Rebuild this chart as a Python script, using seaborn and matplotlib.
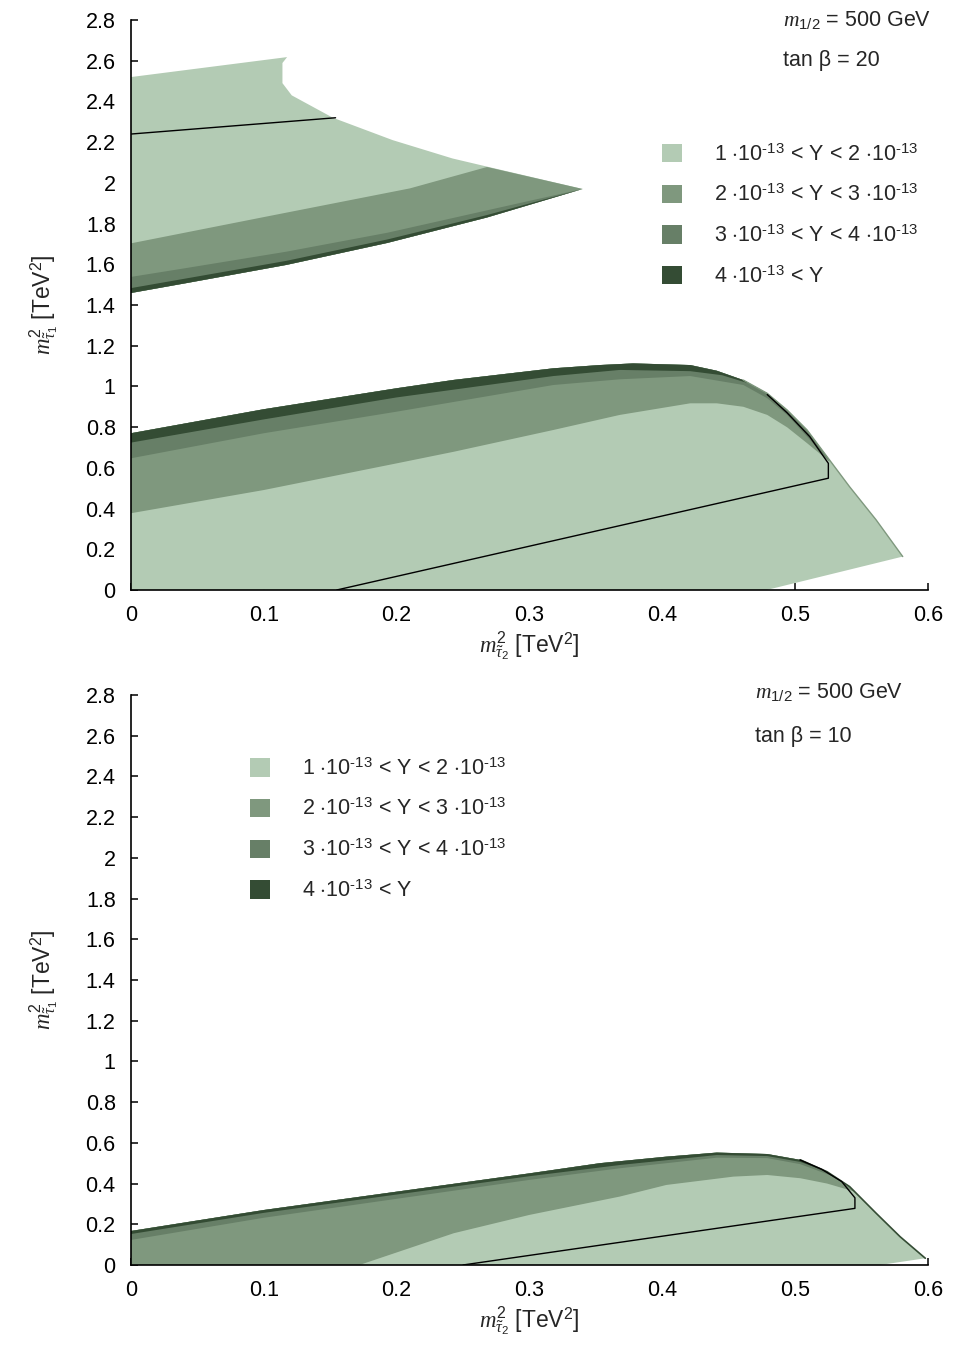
import numpy as np
import matplotlib
matplotlib.use("Agg")
import matplotlib.pyplot as plt
from matplotlib.patches import Patch
from matplotlib.ticker import FuncFormatter
import seaborn as sns
import pandas as pd

sns.set_style("ticks")
plt.rcParams['font.family'] = ['Liberation Sans', 'DejaVu Sans']
plt.rcParams['mathtext.fontset'] = 'custom'
plt.rcParams['mathtext.rm'] = 'Liberation Sans'
plt.rcParams['mathtext.it'] = 'Liberation Serif:italic'
plt.rcParams['mathtext.bf'] = 'Liberation Sans:bold'

FS = 15.5

# ---------------- data ----------------
labels = [r'1 $\cdot$10$^{\text{-13}}$ < Y < 2 $\cdot$10$^{\text{-13}}$',
          r'2 $\cdot$10$^{\text{-13}}$ < Y < 3 $\cdot$10$^{\text{-13}}$',
          r'3 $\cdot$10$^{\text{-13}}$ < Y < 4 $\cdot$10$^{\text{-13}}$',
          r'4 $\cdot$10$^{\text{-13}}$ < Y']
colors = ['#b3cbb4', '#7f987e', '#677f67', '#344c34']

xticks = [0, 0.1, 0.2, 0.3, 0.4, 0.5, 0.6]
yticks = [0, 0.2, 0.4, 0.6, 0.8, 1, 1.2, 1.4, 1.6, 1.8, 2, 2.2, 2.4, 2.6, 2.8]

# --- top panel (tan beta = 20), upper island ---
t20_up_top_x = [0, 0.1175, 0.114, 0.114, 0.121, 0.152, 0.197, 0.242, 0.268, 0.340]
t20_up_top_y = [2.52, 2.618, 2.589, 2.49, 2.43, 2.32, 2.21, 2.12, 2.08, 1.97]
t20_up_bot_x = [0, 0.042, 0.117, 0.193, 0.268, 0.340]
t20_up_bot_y = [1.459, 1.508, 1.597, 1.705, 1.83, 1.97]
t20_up_b23_x = [0, 0.1, 0.21, 0.268]
t20_up_b23_y = [1.703, 1.832, 1.973, 2.078]
t20_up_b34_x = [0, 0.042, 0.117, 0.193, 0.268, 0.340]
t20_up_b34_y = [1.538, 1.582, 1.662, 1.755, 1.865, 1.97]
t20_up_b4_x = [0, 0.042, 0.117, 0.193, 0.268, 0.340]
t20_up_b4_y = [1.483, 1.531, 1.617, 1.722, 1.842, 1.97]
t20_up_line_x = [0, 0.154]
t20_up_line_y = [2.24, 2.32]

# --- top panel (tan beta = 20), lower island ---
t20_lo_top_x = [0, 0.1, 0.2, 0.243, 0.318, 0.353, 0.378, 0.421, 0.441, 0.461,
                0.479, 0.494, 0.509, 0.524, 0.541, 0.561, 0.581]
t20_lo_top_y = [0.77, 0.888, 0.991, 1.032, 1.089, 1.105, 1.113, 1.105, 1.077, 1.031,
                0.966, 0.884, 0.786, 0.655, 0.507, 0.344, 0.164]
t20_lo_bot_x = [0.4786, 0]
t20_lo_bot_y = [0, 0]
t20_lo_b23_x = [0, 0.1, 0.2, 0.243, 0.318, 0.368, 0.421, 0.441, 0.461, 0.479, 0.494, 0.509, 0.526]
t20_lo_b23_y = [0.377, 0.491, 0.622, 0.679, 0.786, 0.860, 0.917, 0.917, 0.900, 0.860, 0.799, 0.721, 0.63]
t20_lo_b34_x = [0, 0.1, 0.2, 0.318, 0.368, 0.421, 0.461, 0.479, 0.494, 0.509, 0.526]
t20_lo_b34_y = [0.647, 0.770, 0.876, 1.007, 1.035, 1.051, 1.007, 0.942, 0.860, 0.753, 0.63]
t20_lo_b4_x = [0, 0.1, 0.2, 0.318, 0.368, 0.421, 0.445, 0.465, 0.479]
t20_lo_b4_y = [0.724, 0.838, 0.946, 1.051, 1.081, 1.075, 1.055, 1.015, 0.966]
t20_lo_line_x = [0.155, 0.525, 0.525, 0.511, 0.494, 0.479]
t20_lo_line_y = [0.0, 0.549, 0.622, 0.753, 0.870, 0.960]

# --- bottom panel (tan beta = 10) ---
t10_top_x = [0, 0.1, 0.2, 0.3, 0.353, 0.403, 0.441, 0.479, 0.504, 0.524, 0.541, 0.561, 0.579, 0.598]
t10_top_y = [0.167, 0.270, 0.360, 0.450, 0.500, 0.532, 0.552, 0.545, 0.516, 0.458, 0.385, 0.254, 0.139, 0.033]
t10_bot_x = [0.564, 0]
t10_bot_y = [0, 0]
t10_b23_x = [0.172, 0.243, 0.3, 0.368, 0.403, 0.4535, 0.479, 0.504, 0.524, 0.545]
t10_b23_y = [0, 0.156, 0.246, 0.336, 0.393, 0.434, 0.442, 0.426, 0.400, 0.36]
t10_b34_x = [0, 0.1, 0.2, 0.3, 0.368, 0.441, 0.479, 0.504, 0.53]
t10_b34_y = [0.123, 0.232, 0.325, 0.418, 0.475, 0.527, 0.525, 0.495, 0.432]
t10_b4_x = [0, 0.1, 0.2, 0.3, 0.368, 0.441, 0.479, 0.504, 0.524]
t10_b4_y = [0.152, 0.256, 0.346, 0.436, 0.491, 0.540, 0.535, 0.506, 0.458]
t10_line_x = [0.25, 0.545, 0.545, 0.535, 0.52, 0.5036]
t10_line_y = [0.0, 0.278, 0.33, 0.41, 0.47, 0.516]


# ---------------- helpers ----------------
def band_below(ox, oy, ix, iy, close=None):
    """Polygon between outer top curve and an inner curve below it."""
    xe = ix[-1]
    px = [x for x in ox if x < xe]
    py = [y for x, y in zip(ox, oy) if x < xe]
    px += list(ix[::-1])
    py += list(iy[::-1])
    if close is not None:
        px.append(close[0]); py.append(close[1])
    return px, py


def style_axes(ax):
    ax.set_xlim(0, 0.6)
    ax.set_ylim(0, 2.8)
    ax.set_xticks(xticks)
    ax.set_yticks(yticks)
    fmt = FuncFormatter(lambda v, p: '%g' % round(v, 3))
    ax.xaxis.set_major_formatter(fmt)
    ax.yaxis.set_major_formatter(fmt)
    sns.despine(ax=ax)
    for s in ['left', 'bottom']:
        ax.spines[s].set_linewidth(1.2)
        ax.spines[s].set_color('black')
        ax.spines[s].set_zorder(10)
    ax.tick_params(direction='in', length=5, width=1.1, labelsize=FS, colors='black')
    ax.tick_params(axis='y', pad=11)
    ax.tick_params(axis='x', pad=11)
    ax.set_xlabel(r'$m^2_{\tilde{\tau}_2}$ [TeV$^2$]', fontsize=FS + 1, labelpad=3)
    ax.set_ylabel(r'$m^2_{\tilde{\tau}_1}$ [TeV$^2$]', fontsize=FS + 1, labelpad=18)
    ax.set_facecolor('white')


def black_line(ax, xs, ys):
    df = pd.DataFrame({'x': xs, 'y': ys})
    sns.lineplot(data=df, x='x', y='y', sort=False, estimator=None, color='black',
                 linewidth=1.0, ax=ax, legend=False, zorder=5)
    ax.set_xlabel(''); ax.set_ylabel('')


fig = plt.figure(figsize=(9.55, 13.46), dpi=100)
ax1 = fig.add_axes([0.1372, 0.5617, 0.8345, 0.4234])
ax2 = fig.add_axes([0.1372, 0.0602, 0.8345, 0.4235])

# ----- top panel: upper island -----
px = t20_up_top_x + t20_up_bot_x[::-1]
py = t20_up_top_y + t20_up_bot_y[::-1]
ax1.fill(px, py, color=colors[0], lw=0)
i = t20_up_top_x.index(0.268)
px = t20_up_b23_x + t20_up_top_x[i + 1:] + t20_up_bot_x[::-1]
py = t20_up_b23_y + t20_up_top_y[i + 1:] + t20_up_bot_y[::-1]
ax1.fill(px, py, color=colors[1], lw=0)
ax1.fill(t20_up_b34_x + t20_up_bot_x[::-1], t20_up_b34_y + t20_up_bot_y[::-1], color=colors[2], lw=0)
ax1.fill(t20_up_b4_x + t20_up_bot_x[::-1], t20_up_b4_y + t20_up_bot_y[::-1], color=colors[3], lw=0)
black_line(ax1, t20_up_line_x, t20_up_line_y)

# ----- top panel: lower island -----
ax1.fill(t20_lo_top_x + t20_lo_bot_x, t20_lo_top_y + t20_lo_bot_y, color=colors[0], lw=0)
ax1.plot(t20_lo_top_x[9:], t20_lo_top_y[9:], color=colors[1], lw=1.0)
for k, (ix, iy) in enumerate([(t20_lo_b23_x, t20_lo_b23_y),
                              (t20_lo_b34_x, t20_lo_b34_y),
                              (t20_lo_b4_x, t20_lo_b4_y)]):
    bx, by = band_below(t20_lo_top_x, t20_lo_top_y, ix, iy)
    ax1.fill(bx, by, color=colors[k + 1], lw=0)
black_line(ax1, t20_lo_line_x, t20_lo_line_y)

# ----- bottom panel -----
ax2.fill(t10_top_x + t10_bot_x, t10_top_y + t10_bot_y, color=colors[0], lw=0)
ax2.plot(t10_top_x[8:], t10_top_y[8:], color=colors[3], lw=1.2)
bx, by = band_below(t10_top_x, t10_top_y, t10_b23_x, t10_b23_y, close=(0, 0))
ax2.fill(bx, by, color=colors[1], lw=0)
bx, by = band_below(t10_top_x, t10_top_y, t10_b34_x, t10_b34_y)
ax2.fill(bx, by, color=colors[2], lw=0)
bx, by = band_below(t10_top_x, t10_top_y, t10_b4_x, t10_b4_y)
ax2.fill(bx, by, color=colors[3], lw=0)
black_line(ax2, t10_line_x, t10_line_y)

for ax in (ax1, ax2):
    style_axes(ax)

handles = [Patch(facecolor=c, edgecolor='none') for c in colors]
leg_kw = dict(frameon=False, fontsize=FS, handlelength=0.93, handleheight=0.93,
              handletextpad=1.5, labelspacing=0.89, borderaxespad=0, borderpad=0)
ax1.legend(handles, labels, loc='upper left', bbox_to_anchor=(0.666, 0.7825), **leg_kw)
ax2.legend(handles, labels, loc='upper left', bbox_to_anchor=(0.149, 0.889), **leg_kw)

# annotations
ax1.text(0.491, 2.80, r'$m_{\mathrm{1/2}}$ = 500 GeV', fontsize=FS, va='center', ha='left')
ax1.text(0.491, 2.60, 'tan β = 20', fontsize=FS, va='center', ha='left')
ax2.text(0.47, 2.815, r'$m_{\mathrm{1/2}}$ = 500 GeV', fontsize=FS, va='center', ha='left')
ax2.text(0.47, 2.594, 'tan β = 10', fontsize=FS, va='center', ha='left')

fig.savefig('out.png', dpi=100, facecolor='white')
